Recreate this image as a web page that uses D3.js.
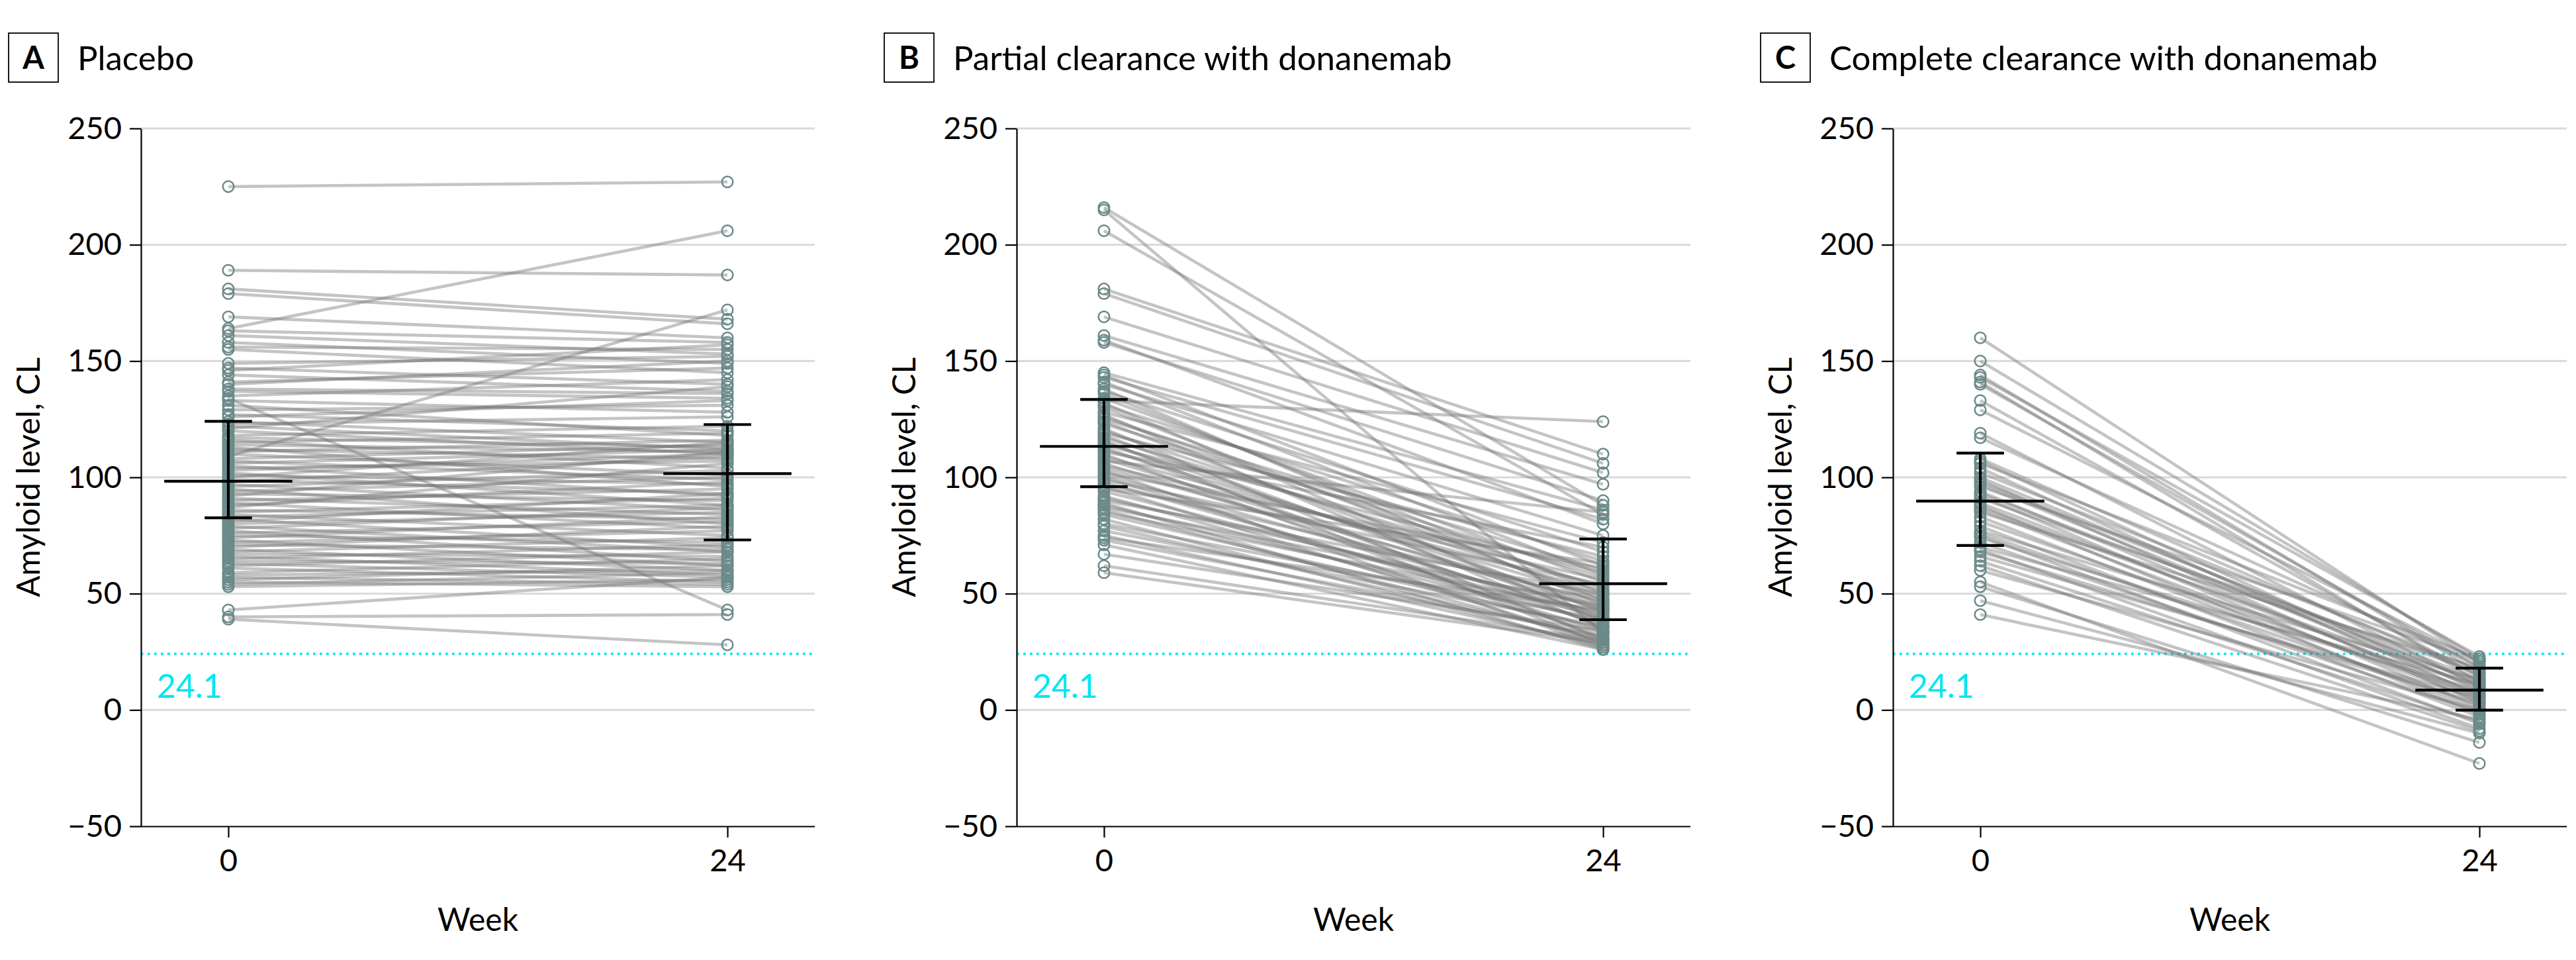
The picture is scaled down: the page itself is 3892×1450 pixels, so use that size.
<!DOCTYPE html>
<html><head><meta charset="utf-8">
<script src="https://cdn.jsdelivr.net/npm/d3@7"></script>
<style>body{margin:0;background:#fff} svg{display:block}</style>
</head><body>
<script>
// ---------- data ----------
const panelLetters = ["A", "B", "C"];
const panelTitles = ["Placebo", "Partial clearance with donanemab", "Complete clearance with donanemab"];
const weeks = [0, 24];
const yTicks = [-50, 0, 50, 100, 150, 200, 250];
const thresholdValue = 24.1;
const thresholdLabel = "24.1";
const yTitle = "Amyloid level, CL";
const xTitle = "Week";

const placeboWeek0 = [225,189,181,179,169,164,163,161,158,156,155,149,147,146,144,141,140,138,137,134,135,133,131,129,127,126,124,123,122,121,120,118,117,116,115,114,113,112,111,110,109,108,107,106,105,104,103,102,101,100,99,98,97,96,95,94,93,92,91,90,89,88,87,86,85,84,83,82,81,80,79,78,77,76,75,74,73,72,71,70,69,68,67,66,65,64,63,62,61,59,58,57,56,55,54,53,43,40,39];
const placeboWeek24 = [227,187,168,166,160,206,158,153,149,155,145,152,140,157,137,147,150,136,134,43,142,128,118,131,120,133,115,126,112,139,110,122,113,104,119,111,96,108,116,101,172,114,99,112,92,107,110,88,97,115,93,109,86,103,80,100,90,111,84,95,78,98,106,82,91,75,88,70,93,85,68,87,64,81,72,83,62,77,69,79,60,74,66,58,71,63,57,68,55,65,60,54,62,53,59,56,57,41,28];

const partialWeek0 = [216,215,206,181,179,169,161,159,158,145,144,143,141,140,138,137,136,134,133,132,131,130,128,127,126,125,124,123,121,120,119,118,117,116,115,114,113,112,111,110,109,108,107,106,105,104,103,102,101,100,99,98,97,96,95,94,92,91,90,89,88,87,86,85,84,82,80,79,77,75,74,73,71,67,62,59];
const partialWeek24 = [88,33,84,110,106,102,97,80,90,86,62,82,58,75,45,68,50,55,124,38,64,47,72,35,52,60,42,57,30,49,66,40,53,28,44,59,36,48,70,31,51,43,85,39,56,46,27,61,41,34,54,37,47,29,63,40,33,44,50,26,38,45,30,42,35,27,39,31,36,28,43,32,26,34,30,29];

const completeWeek0 = [160,150,144,143,141,140,133,129,119,117,108,107,106,104,102,100,99,98,97,96,94,93,92,91,89,88,87,86,85,83,81,79,77,76,75,74,72,70,69,68,66,64,62,60,55,53,47,41];
const completeWeek24 = [20,22,16,23,12,18,14,21,10,19,15,8,22,6,17,11,3,13,9,21,5,12,1,16,7,-2,10,4,18,0,6,-3,13,2,-6,8,-1,11,-8,3,5,-5,-9,0,-23,-14,-10,-4];

// summary bars (center, upper, lower) per panel
const centerWeek0 = [98.3, 113.3, 89.8];
const centerWeek24 = [101.6, 54.3, 8.5];
const upperWeek0 = [124.1, 133.5, 110.4];
const upperWeek24 = [122.7, 73.5, 18.0];
const lowerWeek0 = [82.6, 96.0, 70.7];
const lowerWeek24 = [73.1, 38.8, -0.1];

// ---------- layout ----------
const W = 3892, H = 1450;
const panelLeft = [213, 1536, 2860];
const plotW = 1018;
const yTop = 194, yBottom = 1248;
const FONT = "Lato, 'Noto Sans', sans-serif";

const week0Sets = [placeboWeek0, partialWeek0, completeWeek0];
const week24Sets = [placeboWeek24, partialWeek24, completeWeek24];

const svg = d3.select("body").append("svg")
  .attr("width", W).attr("height", H)
  .style("font-family", FONT);

const y = d3.scaleLinear().domain([-50, 250]).range([yBottom, yTop]);

panelLetters.forEach((letter, i) => {
  const left = panelLeft[i];
  const x = d3.scaleLinear().domain([-4.2, 28.2]).range([left, left + plotW]);
  const g = svg.append("g");

  // gridlines
  g.append("g").selectAll("line").data(yTicks.filter(t => t > -50)).join("line")
    .attr("x1", left).attr("x2", left + plotW)
    .attr("y1", d => y(d)).attr("y2", d => y(d))
    .attr("stroke", "#d9d9d9").attr("stroke-width", 3);

  // threshold
  g.append("line")
    .attr("x1", left).attr("x2", left + plotW)
    .attr("y1", y(thresholdValue)).attr("y2", y(thresholdValue))
    .attr("stroke", "#00e6f0").attr("stroke-width", 3.6)
    .attr("stroke-dasharray", "3.6 6.4");
  g.append("text")
    .attr("x", left + 24).attr("y", y(thresholdValue) + 66)
    .attr("fill", "#00e6f0").attr("font-size", 50)
    .text(thresholdLabel);

  // participant lines
  const pairs = week0Sets[i].map((v, k) => [v, week24Sets[i][k]]);
  const line = d3.line().x(d => x(d[0])).y(d => y(d[1]));
  g.append("g").selectAll("path").data(pairs).join("path")
    .attr("d", p => line([[weeks[0], p[0]], [weeks[1], p[1]]]))
    .attr("fill", "none")
    .attr("stroke", "rgb(115,115,115)")
    .attr("stroke-opacity", 0.42)
    .attr("stroke-width", 4.6);

  // circles
  const pts = [];
  pairs.forEach(p => { pts.push([weeks[0], p[0]]); pts.push([weeks[1], p[1]]); });
  g.append("g").selectAll("circle").data(pts).join("circle")
    .attr("cx", d => x(d[0])).attr("cy", d => y(d[1]))
    .attr("r", 8.3)
    .attr("fill", "none")
    .attr("stroke", "#6b8a8a")
    .attr("stroke-width", 2.5);

  // summary bars
  const summ = [
    {w: weeks[0], c: centerWeek0[i], u: upperWeek0[i], l: lowerWeek0[i]},
    {w: weeks[1], c: centerWeek24[i], u: upperWeek24[i], l: lowerWeek24[i]}
  ];
  const sg = g.append("g").attr("stroke", "#000").attr("stroke-width", 4.2);
  summ.forEach(s => {
    sg.append("line").attr("x1", x(s.w)).attr("x2", x(s.w))
      .attr("y1", y(s.u)).attr("y2", y(s.l));
    sg.append("line").attr("x1", x(s.w - 3.08)).attr("x2", x(s.w + 3.08))
      .attr("y1", y(s.c)).attr("y2", y(s.c));
    [s.u, s.l].forEach(v => {
      sg.append("line").attr("x1", x(s.w - 1.14)).attr("x2", x(s.w + 1.14))
        .attr("y1", y(v)).attr("y2", y(v));
    });
  });

  // axes
  const ya = g.append("g").attr("transform", `translate(${left},0)`)
    .call(d3.axisLeft(y).tickValues(yTicks).tickSize(17).tickSizeOuter(0).tickPadding(12));
  const xa = g.append("g").attr("transform", `translate(0,${yBottom})`)
    .call(d3.axisBottom(x).tickValues(weeks).tickSize(17).tickSizeOuter(0).tickPadding(18));
  [ya, xa].forEach(a => {
    a.select(".domain").attr("stroke", "#000").attr("stroke-width", 2.2);
    a.selectAll(".tick line").attr("stroke", "#000").attr("stroke-width", 2.2);
    a.selectAll(".tick text").attr("font-size", 47).attr("fill", "#000").style("font-family", FONT);
  });
  xa.select(".domain").attr("d", `M${left},0.5H${left + plotW}`);

  // axis titles
  g.append("text")
    .attr("transform", `translate(${left - 153},${(yTop + yBottom) / 2}) rotate(-90)`)
    .attr("text-anchor", "middle").attr("font-size", 48).attr("fill", "#000")
    .text(yTitle);
  g.append("text")
    .attr("x", left + plotW / 2).attr("y", 1406)
    .attr("text-anchor", "middle").attr("font-size", 48).attr("fill", "#000")
    .text(xTitle);

  // panel title
  g.append("rect")
    .attr("x", left - 200).attr("y", 50).attr("width", 75).attr("height", 74)
    .attr("fill", "none").attr("stroke", "#000").attr("stroke-width", 1.8);
  g.append("text")
    .attr("x", left - 162.5).attr("y", 104)
    .attr("text-anchor", "middle").attr("font-size", 47).attr("font-weight", "bold")
    .attr("fill", "#000").text(letter);
  g.append("text")
    .attr("x", left - 96).attr("y", 106)
    .attr("font-size", 51).attr("fill", "#000")
    .text(panelTitles[i]);
});
</script>
</body></html>
